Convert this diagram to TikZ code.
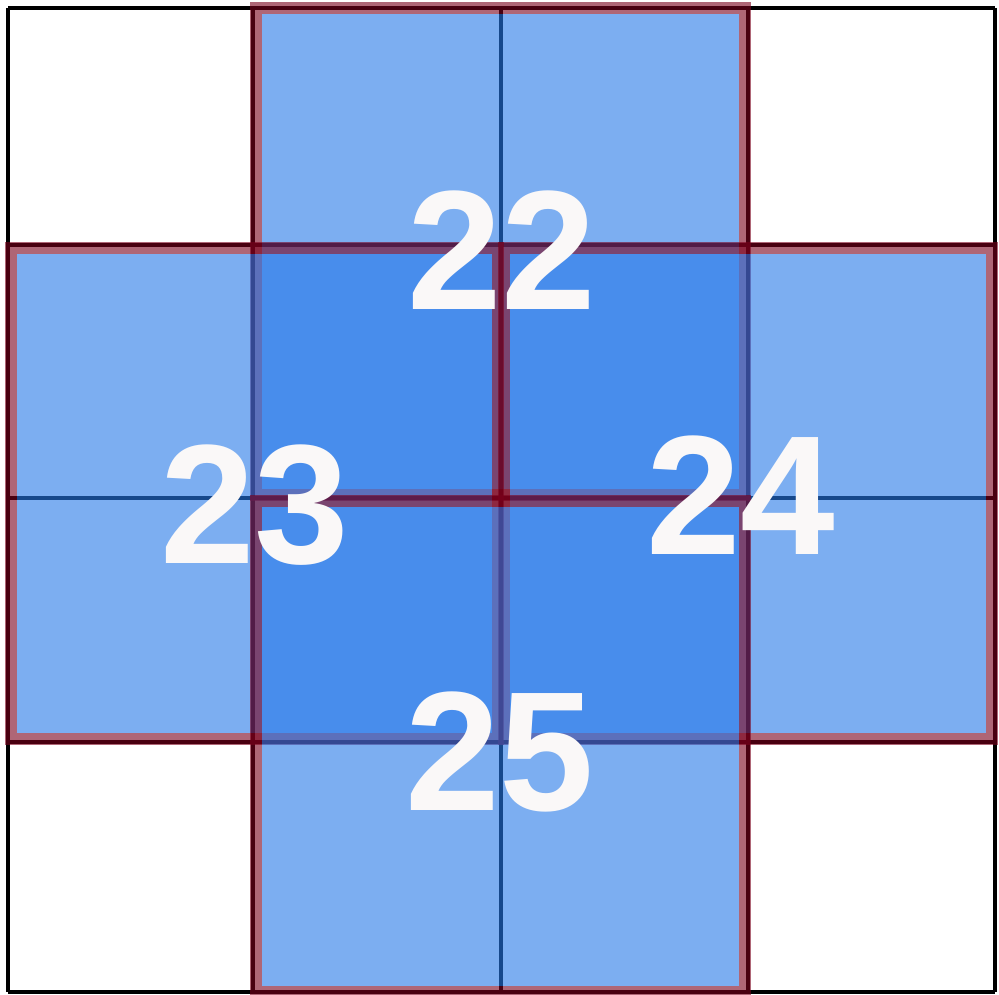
\documentclass[tikz,border=0pt]{standalone}
\usepackage{fontspec}
\setmainfont{Liberation Sans}
\definecolor{boxfill}{RGB}{38,120,233}
\definecolor{boxedge}{RGB}{122,0,27}
\definecolor{numcol}{RGB}{250,248,248}
\tikzset{
  gridline/.style={line width=3.2pt, draw=black},
  blkfill/.style={fill=boxfill, fill opacity=0.6},
  blkedge/.style={draw=boxedge, draw opacity=0.6, line width=12pt, line join=miter},
  numlabel/.style={text=numcol, font=\fontsize{170}{170}\selectfont\bfseries, inner sep=0pt, anchor=center}
}
\newcommand{\blockat}[4]{%
  \path[blkfill] (#1+9,#2+9) rectangle (#3-9,#4-9);
  \path[blkedge] (#1+3,#2+3) rectangle (#3-3,#4-3);
}
\begin{document}
\begin{tikzpicture}[x=1pt,y=-1pt]
\useasboundingbox (0,0) rectangle (999,995);
\fill[white] (0,0) rectangle (999,995);
% grid
\foreach \xx in {8,253,501,748,995} \draw[gridline] (\xx,8) -- (\xx,992);
\foreach \yy in {8,245,498,742,992} \draw[gridline] (8,\yy) -- (995,\yy);
% overlapping blocks
\blockat{253}{5}{748}{498}
\blockat{8}{245}{501}{742}
\blockat{501}{245}{995}{742}
\blockat{253}{498}{748}{995}
% labels
\node[numlabel] (n22) at (502,250) {22};
\node[numlabel] (n23) at (255,505) {23};
\node[numlabel] (n24) at (741,495) {24};
\node[numlabel] (n25) at (500,752) {25};
\end{tikzpicture}
\end{document}
